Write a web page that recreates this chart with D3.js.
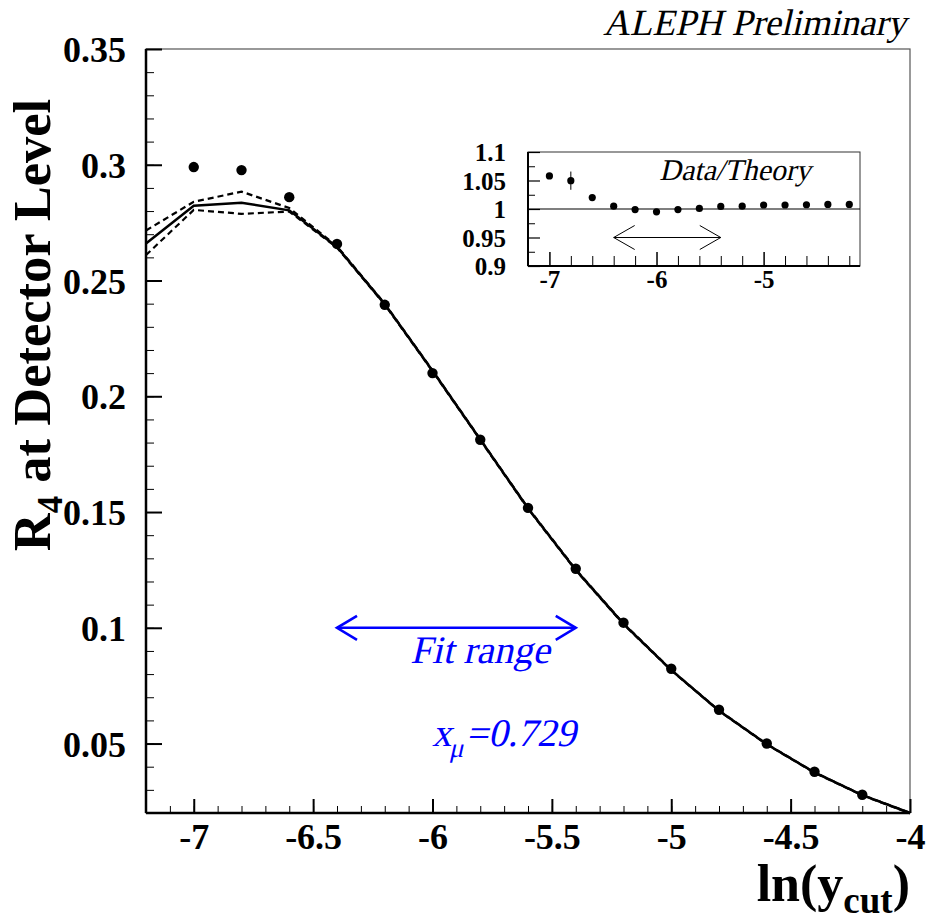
<!doctype html>
<html lang="en">
<head>
<meta charset="utf-8" />
<title>R4 at Detector Level</title>
<script src="https://cdn.jsdelivr.net/npm/d3@7"></script>
<style>
	body { margin: 0; background: #fff; }
	svg text { font-family: "Liberation Serif", "DejaVu Serif", serif; }
</style>
</head>
<body>
<div id="chart"></div>
<script>
	// measured points (ln ycut)
	const dataX = [-7.0, -6.8, -6.6, -6.4, -6.2, -6.0, -5.8, -5.6, -5.4, -5.2, -5.0, -4.8, -4.6, -4.4, -4.2];
	const dataR4 = [0.299, 0.2977, 0.286, 0.2658, 0.2395, 0.210, 0.1812, 0.1518, 0.1255, 0.1022, 0.0823, 0.0646, 0.050, 0.0378, 0.0279];
	// theory curves
	const theoryX = [-7.2, -7.0, -6.8, -6.6, -6.4, -6.2, -6.0, -5.8, -5.6, -5.4, -5.2, -5.0, -4.8, -4.6, -4.4, -4.2, -4.0];
	const theoryMid = [0.266, 0.2823, 0.2836, 0.2803, 0.2645, 0.2398, 0.211, 0.1813, 0.1516, 0.125, 0.1017, 0.0817, 0.0642, 0.0497, 0.0375, 0.0277, 0.020];
	const theoryUp = [0.2716, 0.284, 0.2884, 0.2813, 0.2648, 0.240, 0.2112, 0.1815, 0.1518, 0.1252, 0.1019, 0.0818, 0.0643, 0.0498, 0.0376, 0.0278, 0.0201];
	const theoryLow = [0.261, 0.2805, 0.2788, 0.2798, 0.2642, 0.2396, 0.2108, 0.1811, 0.1514, 0.1248, 0.1015, 0.0816, 0.0641, 0.0496, 0.0374, 0.0276, 0.0199];
	// data / theory ratio (inset)
	const ratio = [1.058, 1.0497, 1.020, 1.005, 0.999, 0.995, 0.999, 1.001, 1.0045, 1.005, 1.007, 1.007, 1.0075, 1.008, 1.008];
	const ratioErr = [0.004, 0.016, 0.003, 0.002, 0.002, 0.002, 0.002, 0.002, 0.002, 0.002, 0.002, 0.002, 0.002, 0.002, 0.002];

	const xTicks = [-7, -6.5, -6, -5.5, -5, -4.5, -4];
	const yTicks = [0.05, 0.1, 0.15, 0.2, 0.25, 0.3, 0.35];
	const insetXTicks = [-7, -6, -5];
	const insetYTicks = [0.9, 0.95, 1, 1.05, 1.1];
	const fitRange = [-6.4, -5.4];

	const SERIF = "'Liberation Serif', 'DejaVu Serif', serif";
	const W = 927, H = 920;
	const svg = d3.select("#chart").append("svg").attr("width", W).attr("height", H);

	const x = d3.scaleLinear().domain([-7.2, -4]).range([146, 910]);
	const y = d3.scaleLinear().domain([0.02, 0.35]).range([813, 49]);

	// frame top/right
	svg.append("rect")
		.attr("x", 146).attr("y", 49).attr("width", 764).attr("height", 764)
		.attr("fill", "none").attr("stroke", "#555").attr("stroke-width", 1.2);

	const tickStyle = (g, w) => {
		g.select(".domain").remove();
		g.selectAll(".tick line").attr("stroke", "#000").attr("stroke-width", w);
	};
	const labelStyle = (g, size, dy) => {
		g.selectAll("text").attr("fill", "#000").attr("font-size", size).attr("font-weight", "bold")
			.attr("dy", dy).attr("font-family", SERIF);
	};
	const fmt = (d) => d3.format("")(d).replace("−", "-");

	// slanted serif text (italic face is not available, so skew the upright one)
	const slanted = (px, py, anchor, size, color) =>
		svg.append("g").attr("transform", `translate(${px},${py}) skewX(-13)`)
			.append("text").attr("text-anchor", anchor).attr("font-family", SERIF)
			.attr("font-size", size).attr("fill", color);

	// minor ticks
	svg.append("g").attr("transform", "translate(0,813)")
		.call(d3.axisBottom(x).tickValues(d3.range(-7.1, -4.0, 0.1)).tickSize(-7).tickFormat(""))
		.call((g) => tickStyle(g, 1));
	svg.append("g").attr("transform", "translate(146,0)")
		.call(d3.axisLeft(y).tickValues(d3.range(0.03, 0.35, 0.01)).tickSize(-8).tickFormat(""))
		.call((g) => tickStyle(g, 1));

	// major ticks
	svg.append("g").attr("transform", "translate(0,813)")
		.call(d3.axisBottom(x).tickValues(xTicks).tickSize(-14).tickPadding(16).tickFormat(fmt))
		.call((g) => { tickStyle(g, 2); labelStyle(g, 36, "0.55em"); });
	svg.append("g").attr("transform", "translate(146,0)")
		.call(d3.axisLeft(y).tickValues(yTicks).tickSize(-16).tickPadding(20).tickFormat(fmt))
		.call((g) => { tickStyle(g, 2); labelStyle(g, 36, "0.35em"); });

	// axis lines
	svg.append("line").attr("x1", 146).attr("x2", 146).attr("y1", 49).attr("y2", 813).attr("stroke", "#000").attr("stroke-width", 2.5);
	svg.append("line").attr("x1", 146).attr("x2", 910).attr("y1", 813).attr("y2", 813).attr("stroke", "#000").attr("stroke-width", 2.5);

	// theory curves
	const plot = svg.append("g");
	const curve = (vals) => d3.line().x((d, i) => x(theoryX[i])).y((d) => y(d))(vals);
	plot.append("path").attr("d", curve(theoryUp)).attr("fill", "none").attr("stroke", "#000").attr("stroke-width", 2.2).attr("stroke-dasharray", "6,4");
	plot.append("path").attr("d", curve(theoryLow)).attr("fill", "none").attr("stroke", "#000").attr("stroke-width", 2.2).attr("stroke-dasharray", "6,4");
	plot.append("path").attr("d", curve(theoryMid)).attr("fill", "none").attr("stroke", "#000").attr("stroke-width", 2.5);

	// data points
	plot.selectAll("circle.pt").data(dataX).join("circle")
		.attr("class", "pt")
		.attr("cx", (d) => x(d)).attr("cy", (d, i) => y(dataR4[i]))
		.attr("r", 5.2).attr("fill", "#000");

	// fit range arrow
	const blue = "#0000ff";
	const ay = y(0.1);
	const ax0 = x(fitRange[0]), ax1 = x(fitRange[1]);
	const arrow = svg.append("g").attr("stroke", blue).attr("stroke-width", 2.6).attr("fill", "none");
	arrow.append("line").attr("x1", ax0).attr("x2", ax1).attr("y1", ay).attr("y2", ay);
	arrow.append("path").attr("d", `M${ax0 + 20},${ay - 12}L${ax0},${ay}L${ax0 + 20},${ay + 12}`);
	arrow.append("path").attr("d", `M${ax1 - 20},${ay - 12}L${ax1},${ay}L${ax1 - 20},${ay + 12}`);

	slanted(480, 663, "middle", 39, blue).text("Fit range");
	const xm = slanted(432, 746, "start", 39, blue);
	xm.append("tspan").text("x");
	xm.append("tspan").attr("font-size", 27).attr("dy", 11).text("μ");
	xm.append("tspan").attr("dy", -11).text("=0.729");

	// titles
	slanted(906, 35, "end", 37, "#000").text("ALEPH Preliminary");

	const yt = svg.append("text").attr("transform", "translate(50,325) rotate(-90)").attr("text-anchor", "middle")
		.attr("font-size", 52.5).attr("font-weight", "bold").attr("fill", "#000");
	yt.append("tspan").text("R");
	yt.append("tspan").attr("font-size", 35).attr("dy", 12).text("4");
	yt.append("tspan").attr("dy", -12).text(" at Detector Level");

	const xt = svg.append("text").attr("x", 910).attr("y", 901).attr("text-anchor", "end")
		.attr("font-size", 52).attr("font-weight", "bold").attr("fill", "#000");
	xt.append("tspan").text("ln(y");
	xt.append("tspan").attr("font-size", 37).attr("dy", 12).text("cut");
	xt.append("tspan").attr("dy", -12).text(")");

	// inset
	const ix = d3.scaleLinear().domain([-7.2, -4.1]).range([528, 860]);
	const iy = d3.scaleLinear().domain([0.9, 1.1]).range([266, 152]);
	const inset = svg.append("g");
	inset.append("rect").attr("x", 528).attr("y", 152).attr("width", 332).attr("height", 114)
		.attr("fill", "none").attr("stroke", "#333").attr("stroke-width", 1);

	inset.append("g").attr("transform", "translate(0,266)")
		.call(d3.axisBottom(ix).tickValues(d3.range(-6.8, -4.1, 0.2).filter((v) => Math.abs(v - Math.round(v)) > 0.01)).tickSize(-10).tickFormat(""))
		.call((g) => tickStyle(g, 1));
	inset.append("g").attr("transform", "translate(0,266)")
		.call(d3.axisBottom(ix).tickValues(insetXTicks).tickSize(-14).tickPadding(7).tickFormat(fmt))
		.call((g) => { tickStyle(g, 1.5); labelStyle(g, 25, "0.6em"); });
	inset.append("g").attr("transform", "translate(528,0)")
		.call(d3.axisLeft(iy).tickValues([0.925, 0.975, 1.025, 1.075]).tickSize(-7).tickFormat(""))
		.call((g) => tickStyle(g, 1));
	inset.append("g").attr("transform", "translate(528,0)")
		.call(d3.axisLeft(iy).tickValues(insetYTicks).tickSize(-12).tickPadding(22).tickFormat(fmt))
		.call((g) => { tickStyle(g, 1.2); labelStyle(g, 25, "0.35em"); });
	inset.append("line").attr("x1", 528).attr("x2", 528).attr("y1", 152).attr("y2", 266).attr("stroke", "#000").attr("stroke-width", 2);
	inset.append("line").attr("x1", 528).attr("x2", 860).attr("y1", 266).attr("y2", 266).attr("stroke", "#000").attr("stroke-width", 2);
	inset.append("line").attr("x1", 528).attr("x2", 860).attr("y1", iy(1)).attr("y2", iy(1)).attr("stroke", "#000").attr("stroke-width", 1.2);

	inset.selectAll("line.err").data(dataX).join("line").attr("class", "err")
		.attr("x1", (d) => ix(d)).attr("x2", (d) => ix(d))
		.attr("y1", (d, i) => iy(ratio[i] - ratioErr[i])).attr("y2", (d, i) => iy(ratio[i] + ratioErr[i]))
		.attr("stroke", "#000").attr("stroke-width", 1);
	inset.selectAll("circle.ipt").data(dataX).join("circle").attr("class", "ipt")
		.attr("cx", (d) => ix(d)).attr("cy", (d, i) => iy(ratio[i]))
		.attr("r", 3.6).attr("fill", "#000");

	const iay = iy(0.95);
	const iax0 = ix(fitRange[0]), iax1 = ix(fitRange[1]);
	const iarrow = inset.append("g").attr("stroke", "#000").attr("stroke-width", 1).attr("fill", "none");
	iarrow.append("line").attr("x1", iax0).attr("x2", iax1).attr("y1", iay).attr("y2", iay);
	iarrow.append("path").attr("d", `M${iax0 + 21},${iay - 12}L${iax0},${iay}L${iax0 + 21},${iay + 12}`);
	iarrow.append("path").attr("d", `M${iax1 - 21},${iay - 12}L${iax1},${iay}L${iax1 - 21},${iay + 12}`);

	slanted(735, 180, "middle", 30, "#000").text("Data/Theory");
</script>
</body>
</html>
